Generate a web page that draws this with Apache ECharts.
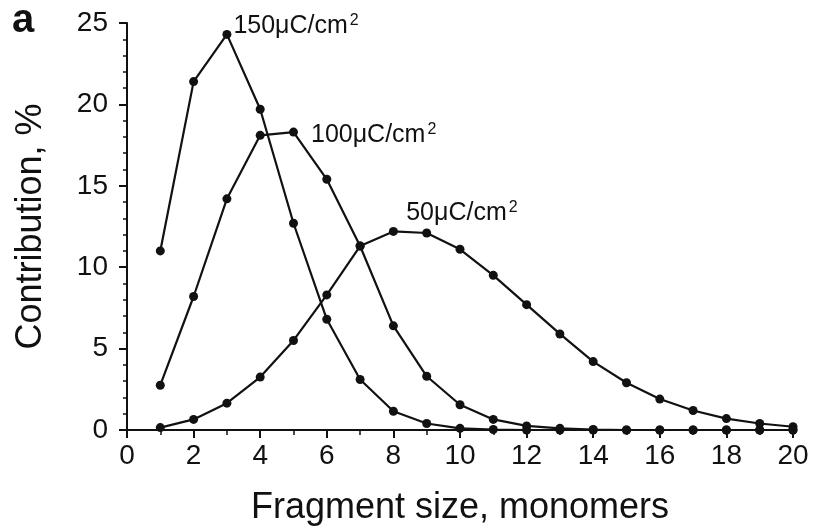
<!DOCTYPE html>
<html>
<head>
<meta charset="utf-8">
<script src="https://cdn.jsdelivr.net/npm/echarts@6/dist/echarts.min.js"></script>
<style>
  html, body { margin: 0; padding: 0; background: #fff; }
  #chart { width: 814px; height: 528px; }
</style>
</head>
<body>
<div id="chart"></div>
<script>
// Fragment size distribution for three exposure doses
const fragmentSizes = [1, 2, 3, 4, 5, 6, 7, 8, 9, 10, 11, 12, 13, 14, 15, 16, 17, 18, 19, 20];
const dose150 = [11.0, 21.4, 24.3, 19.7, 12.7, 6.8, 3.1, 1.15, 0.4, 0.1, 0.03, 0, 0, 0, 0, 0, 0, 0, 0, 0];
const dose100 = [2.75, 8.2, 14.2, 18.1, 18.3, 15.4, 11.3, 6.4, 3.3, 1.55, 0.65, 0.25, 0.1, 0.03, 0, 0, 0, 0, 0, 0];
const dose50 = [0.15, 0.65, 1.65, 3.25, 5.5, 8.3, 11.3, 12.2, 12.1, 11.1, 9.5, 7.7, 5.9, 4.2, 2.9, 1.9, 1.2, 0.7, 0.4, 0.2];
const doseLabels = ['150', '100', '50'];
const xTicks = [0, 2, 4, 6, 8, 10, 12, 14, 16, 18, 20];
const yTicks = [0, 5, 10, 15, 20, 25];

const FONT = "'Liberation Sans', Arial, Helvetica, sans-serif";
const INK = '#111';

// label anchor: which point carries the dose label and how it is offset
function makeData(values, labelIndex, dose, offset) {
  return values.map((v, i) => {
    const item = { value: [fragmentSizes[i], v] };
    if (i === labelIndex) {
      item.label = {
        show: true,
        position: 'right',
        distance: 5,
        offset: offset,
        formatter: '{t|' + dose + 'μC/cm}{s|2}',
        rich: {
          t: { fontFamily: FONT, fontSize: 25, color: INK, verticalAlign: 'bottom', lineHeight: 26 },
          s: { fontFamily: FONT, fontSize: 16, color: INK, verticalAlign: 'top', lineHeight: 26, padding: [0, 0, 10, 2] }
        }
      };
    }
    return item;
  });
}

function lineSeries(name, data) {
  return {
    name: name,
    type: 'line',
    data: data,
    symbol: 'circle',
    symbolSize: 9,
    showAllSymbol: true,
    itemStyle: { color: INK },
    lineStyle: { color: INK, width: 2.2 },
    emphasis: { disabled: true },
    animation: false,
    z: 3
  };
}

const chart = echarts.init(document.getElementById('chart'), null, { renderer: 'canvas' });
chart.setOption({
  backgroundColor: '#fff',
  animation: false,
  title: {
    text: 'a',
    left: 7,
    top: -4,
    textStyle: { fontFamily: FONT, fontSize: 40, fontWeight: 'bold', color: INK }
  },
  grid: { left: 127, right: 21, top: 23, bottom: 98, containLabel: false, outerBoundsMode: 'none' },
  xAxis: {
    type: 'value',
    min: xTicks[0],
    max: xTicks[xTicks.length - 1],
    interval: xTicks[1] - xTicks[0],
    name: 'Fragment size, monomers',
    nameLocation: 'middle',
    nameGap: 60,
    nameTextStyle: { fontFamily: FONT, fontSize: 36, color: INK },
    axisLine: { show: true, onZero: false, lineStyle: { color: INK, width: 2 } },
    axisTick: { show: true, inside: false, length: 8, lineStyle: { color: INK, width: 2 } },
    minorTick: { show: true, splitNumber: 2, length: 5, lineStyle: { color: INK, width: 1.5 } },
    axisLabel: { fontFamily: FONT, fontSize: 28, color: INK, margin: 12 },
    splitLine: { show: false }
  },
  yAxis: {
    type: 'value',
    min: yTicks[0],
    max: yTicks[yTicks.length - 1],
    interval: yTicks[1] - yTicks[0],
    name: 'Contribution, %',
    nameLocation: 'middle',
    nameGap: 78,
    nameRotate: 90,
    nameTextStyle: { fontFamily: FONT, fontSize: 36, color: INK },
    axisLine: { show: true, lineStyle: { color: INK, width: 2 } },
    axisTick: { show: true, inside: false, length: 8, lineStyle: { color: INK, width: 2 } },
    minorTick: { show: true, splitNumber: 5, length: 4, lineStyle: { color: INK, width: 1.5 } },
    axisLabel: { fontFamily: FONT, fontSize: 28, color: INK, margin: 19 },
    splitLine: { show: false }
  },
  series: [
    lineSeries(doseLabels[0], makeData(dose150, 2, doseLabels[0], [-3, -9])),
    lineSeries(doseLabels[1], makeData(dose100, 4, doseLabels[1], [8, 3])),
    lineSeries(doseLabels[2], makeData(dose50, 8, doseLabels[2], [-30, -20]))
  ]
});
</script>
</body>
</html>
